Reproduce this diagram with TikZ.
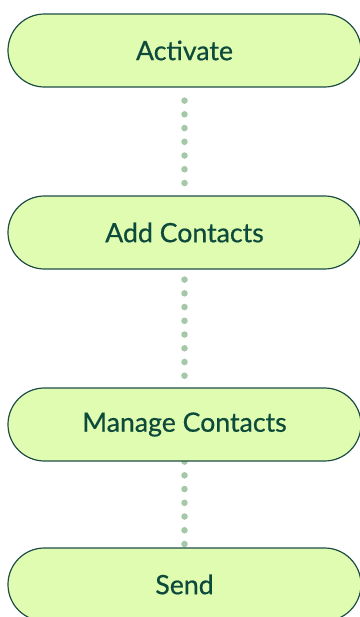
\documentclass[tikz,border=0pt]{standalone}
\usepackage{fontspec}
\setmainfont{Lato}
\newfontfamily\stepfont{Lato}[FakeBold=0.6]
\usepackage{tikz}
\usetikzlibrary{backgrounds}

\definecolor{stepfill}{HTML}{E0FCB0}
\definecolor{stepline}{HTML}{1D4D45}
\definecolor{steptext}{HTML}{0D4A3C}
\definecolor{dotgreen}{HTML}{A5C8A8}

\tikzset{
    stepbox/.style={draw=stepline, line width=0.9pt, fill=stepfill, text=steptext,
        rounded corners=27.3pt, minimum width=264.75pt, minimum height=54.75pt,
        inner sep=0pt, font=\stepfont\fontsize{20}{24}\selectfont},
    dotlink/.style={dotgreen, line width=4.9pt, line cap=round,
        dash pattern=on 0pt off 10.3pt}
}

\begin{document}
\begin{tikzpicture}[x=0.75pt, y=-0.75pt]

\useasboundingbox (0, 0) rectangle (360, 617);

% ── steps ───────────────────────────────────────
\node[stepbox] (activate) at (184.5, 50.5) {Activate};
\node[stepbox] (addcont)  at (184.5, 232.5) {Add Contacts};
\node[stepbox] (managecont) at (184.5, 424.5) {Manage Contacts};
\node[stepbox] (send)     at (184.5, 584.5) {Send};

% ── dotted links, behind the steps ──────────────
\begin{scope}[on background layer]
    \draw[dotlink, shorten <=9.75pt, shorten >=6pt] (activate.south) -- (addcont.north);
    \draw[dotlink, shorten <=7.5pt] (addcont.south) -- (managecont.north);
    \draw[dotlink] (managecont.south) -- (send.north);
\end{scope}

\end{tikzpicture}
\end{document}
